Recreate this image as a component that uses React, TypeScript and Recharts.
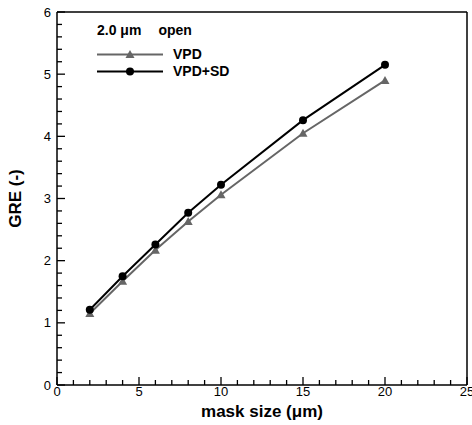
import { LineChart, Line, XAxis, YAxis, Legend, ReferenceLine } from "recharts";

const maskSize = [2, 4, 6, 8, 10, 15, 20];
const vpd = [1.15, 1.67, 2.17, 2.63, 3.06, 4.05, 4.9];
const vpdSd = [1.21, 1.75, 2.26, 2.77, 3.22, 4.26, 5.15];

const xMajor = [0, 5, 10, 15, 20, 25];
const yMajor = [0, 1, 2, 3, 4, 5, 6];
const xTicks = Array.from({ length: 26 }, (_, i) => i);
const yTicks = Array.from({ length: 31 }, (_, i) => i / 5);

const data = maskSize.map((m, i) => ({ m, vpd: vpd[i], vpdSd: vpdSd[i] }));

const FONT = '"Liberation Sans", Arial, Helvetica, sans-serif';
const GRAY = "#666666";

function isMajor(v: number, list: number[]) {
  return list.some((t) => Math.abs(t - v) < 1e-6);
}

// tick positions as points on the axes, drawn as marks pointing into the plot
const xTickPts = xTicks.map((t) => ({ m: t, tk: 0, major: isMajor(t, xMajor) }));
const yTickPts = yTicks.map((t) => ({ m: 0, tk: t, major: isMajor(t, yMajor) }));

function XLabel({ x, y, payload }: any) {
  return (
    <text x={x} y={y + 11} textAnchor="middle" fontSize={13} fontFamily={FONT} fill="#000" stroke="none">
      {payload.value}
    </text>
  );
}

function YLabel({ x, y, payload }: any) {
  return (
    <text x={x - 6} y={y + 4.5} textAnchor="end" fontSize={13} fontFamily={FONT} fill="#000" stroke="none">
      {Math.round(payload.value)}
    </text>
  );
}

const xTickDot = (p: any) => {
  const len = p.payload.major ? 8 : 5;
  return <path key={`xt${p.index}`} d={`M${p.cx},${p.cy} L${p.cx},${p.cy - len}`} stroke="#000" strokeWidth={1.3} fill="none" />;
};

const yTickDot = (p: any) => {
  const len = p.payload.major ? 8 : 5;
  return <path key={`yt${p.index}`} d={`M${p.cx},${p.cy} L${p.cx + len},${p.cy}`} stroke="#000" strokeWidth={1.3} fill="none" />;
};

function Triangle({ cx, cy, fill, size = 4.5 }: any) {
  if (cx == null || cy == null) return null;
  const h = size;
  return (
    <polygon
      points={`${cx},${cy - h} ${cx - h},${cy + h * 0.8} ${cx + h},${cy + h * 0.8}`}
      fill={fill}
    />
  );
}

function Marker({ kind, cx, cy }: { kind: string; cx: number; cy: number }) {
  if (kind === "vpd") return <Triangle cx={cx} cy={cy} fill={GRAY} />;
  return <circle cx={cx} cy={cy} r={4} fill="#000" />;
}

function LegendBox({ payload }: any) {
  const items = (payload || []).filter((p: any) => p.dataKey === "vpd" || p.dataKey === "vpdSd");
  return (
    <div style={{ fontFamily: FONT, fontWeight: "bold", fontSize: 14, color: "#000", textAlign: "left" }}>
      <div style={{ height: 26, lineHeight: "20px" }}>
        <span>2.0 μm</span>
        <span style={{ marginLeft: 17 }}>open</span>
      </div>
      {items.map((p: any) => (
        <div key={p.value} style={{ display: "flex", alignItems: "center", height: 17 }}>
          <svg width={66} height={17} style={{ display: "block" }}>
            <line x1={0} y1={8.5} x2={66} y2={8.5} stroke={p.color} strokeWidth={2} />
            <Marker kind={p.dataKey} cx={33} cy={8.5} />
          </svg>
          <span style={{ marginLeft: 10, lineHeight: "17px" }}>{p.value}</span>
        </div>
      ))}
    </div>
  );
}

export default function App() {
  return (
    <div style={{ position: "absolute", left: 0, top: 0, width: 472, height: 425, background: "#fff" }}>
      <LineChart
        width={472}
        height={425}
        data={data}
        margin={{ top: 12, right: 5, left: 0, bottom: 0 }}
      >
        <XAxis
          dataKey="m"
          type="number"
          domain={[0, 25]}
          ticks={xMajor}
          interval={0}
          tickSize={0}
          tickMargin={0}
          tickLine={false}
          tick={<XLabel />}
          height={40}
          axisLine={{ stroke: "#000", strokeWidth: 1.5 }}
          label={{
            value: "mask size (μm)",
            position: "insideBottom",
            offset: 8,
            style: { fontFamily: FONT, fontWeight: "bold", fontSize: 17, fill: "#000" },
          }}
        />
        <YAxis
          type="number"
          domain={[0, 6]}
          ticks={yMajor}
          interval={0}
          tickSize={0}
          tickMargin={0}
          tickLine={false}
          tick={<YLabel />}
          width={57}
          axisLine={{ stroke: "#000", strokeWidth: 1.5 }}
          label={{
            value: "GRE (-)",
            angle: -90,
            position: "insideLeft",
            offset: 15,
            style: { fontFamily: FONT, fontWeight: "bold", fontSize: 17, fill: "#000", textAnchor: "middle" },
          }}
        />
        <ReferenceLine y={6} stroke="#000" strokeWidth={1.5} />
        <ReferenceLine x={25} stroke="#000" strokeWidth={1.5} />
        <Legend
          layout="horizontal"
          verticalAlign="middle"
          align="center"
          content={<LegendBox />}
          wrapperStyle={{ position: "absolute", left: 97, top: 20, width: 200 }}
        />
        <Line
          data={xTickPts}
          dataKey="tk"
          stroke="none"
          legendType="none"
          isAnimationActive={false}
          dot={xTickDot}
          activeDot={false}
        />
        <Line
          data={yTickPts}
          dataKey="tk"
          stroke="none"
          legendType="none"
          isAnimationActive={false}
          dot={yTickDot}
          activeDot={false}
        />
        <Line
          dataKey="vpd"
          name="VPD"
          stroke={GRAY}
          strokeWidth={2}
          isAnimationActive={false}
          dot={(p: any) => <Triangle key={`t${p.index}`} cx={p.cx} cy={p.cy} fill={GRAY} />}
          activeDot={false}
        />
        <Line
          dataKey="vpdSd"
          name="VPD+SD"
          stroke="#000"
          strokeWidth={2}
          isAnimationActive={false}
          dot={(p: any) => <circle key={`c${p.index}`} cx={p.cx} cy={p.cy} r={4} fill="#000" />}
          activeDot={false}
        />
      </LineChart>
    </div>
  );
}
